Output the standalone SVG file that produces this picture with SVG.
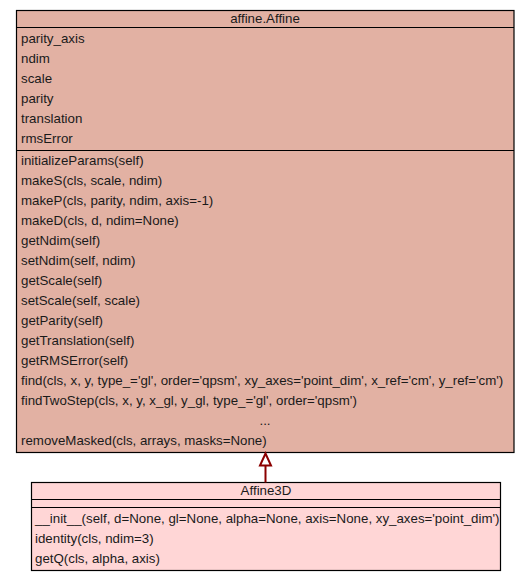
<svg xmlns="http://www.w3.org/2000/svg" width="529" height="581" viewBox="0 0 529 581">
<style>
text{font-family:"Liberation Sans",Arial,sans-serif;font-size:13.3px;fill:#1a1a1a}
.c{text-anchor:middle}
.box{stroke:#000;stroke-width:1.2}
.sep{stroke:#000;stroke-width:1.2}
</style>
<rect width="529" height="581" fill="#fff"/>
<g id="node_affine">
<rect class="box" x="16.5" y="10.5" width="497.5" height="442" fill="#e2b1a3"/>
<line class="sep" x1="16.5" y1="27.5" x2="514" y2="27.5"/>
<line class="sep" x1="16.5" y1="150.5" x2="514" y2="150.5"/>
<text class="c" x="265" y="23">affine.Affine</text>
<text x="21" y="43">parity_axis</text>
<text x="21" y="63">ndim</text>
<text x="21" y="83">scale</text>
<text x="21" y="103">parity</text>
<text x="21" y="123">translation</text>
<text x="21" y="143">rmsError</text>
<text x="21" y="165">initializeParams(self)</text>
<text x="21" y="185">makeS(cls, scale, ndim)</text>
<text x="21" y="205">makeP(cls, parity, ndim, axis=-1)</text>
<text x="21" y="225">makeD(cls, d, ndim=None)</text>
<text x="21" y="245">getNdim(self)</text>
<text x="21" y="265">setNdim(self, ndim)</text>
<text x="21" y="285">getScale(self)</text>
<text x="21" y="305">setScale(self, scale)</text>
<text x="21" y="325">getParity(self)</text>
<text x="21" y="345">getTranslation(self)</text>
<text x="21" y="365">getRMSError(self)</text>
<text x="21" y="385">find(cls, x, y, type_='gl', order='qpsm', xy_axes='point_dim', x_ref='cm', y_ref='cm')</text>
<text x="21" y="405">findTwoStep(cls, x, y, x_gl, y_gl, type_='gl', order='qpsm')</text>
<text class="c" x="265" y="425">...</text>
<text x="21" y="445">removeMasked(cls, arrays, masks=None)</text>
</g>
<g id="node_affine3d">
<rect class="box" x="31.5" y="482.5" width="469" height="88" fill="#ffd6d6"/>
<line class="sep" x1="31.5" y1="499.5" x2="500.5" y2="499.5"/>
<line class="sep" x1="31.5" y1="507.5" x2="500.5" y2="507.5"/>
<text class="c" x="266" y="495">Affine3D</text>
<text x="35" y="523">__init__(self, d=None, gl=None, alpha=None, axis=None, xy_axes='point_dim')</text>
<text x="35" y="543">identity(cls, ndim=3)</text>
<text x="35" y="563">getQ(cls, alpha, axis)</text>
</g>
<g id="connectors">
<line x1="265.5" y1="466" x2="265.5" y2="482.5" stroke="#8b0000" stroke-width="2"/>
<polygon points="265.5,453.5 260,465.5 271,465.5" fill="#fff" stroke="#8b0000" stroke-width="2"/>
</g>
</svg>
